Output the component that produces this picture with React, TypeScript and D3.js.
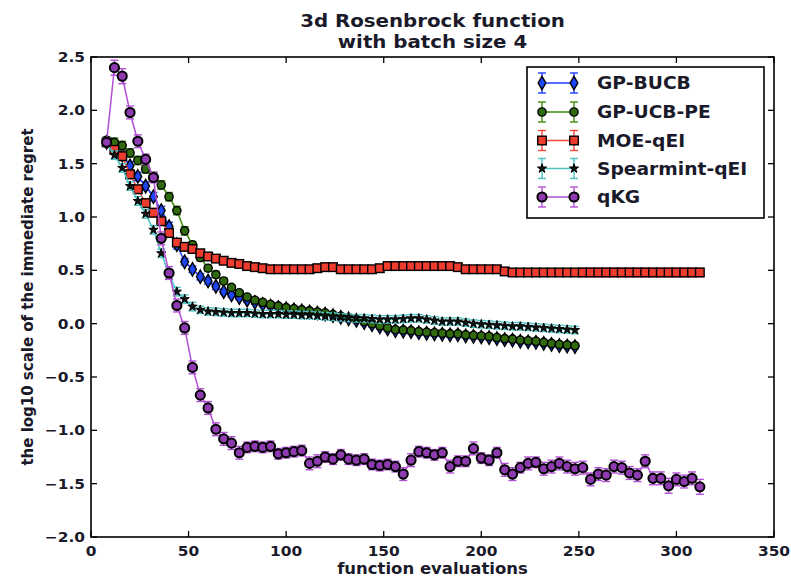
import React from 'react';
import * as d3 from 'd3';

// Function-evaluation counts (batch size 4)
const evaluations = [
  8, 12, 16, 20, 24, 28, 32, 36, 40, 44, 48, 52, 56, 60, 64, 68, 72, 76, 80, 84,
  88, 92, 96, 100, 104, 108, 112, 116, 120, 124, 128, 132, 136, 140, 144, 148, 152, 156, 160, 164,
  168, 172, 176, 180, 184, 188, 192, 196, 200, 204, 208, 212, 216, 220, 224, 228, 232, 236, 240, 244,
  248, 252, 256, 260, 264, 268, 272, 276, 280, 284, 288, 292, 296, 300, 304, 308, 312,
];

const gpBucb = [
  1.70, 1.66, 1.58, 1.48, 1.38, 1.29, 1.19, 1.06, 0.91, 0.74,
  0.58, 0.51, 0.44, 0.40, 0.35, 0.30, 0.27, 0.245, 0.22, 0.20,
  0.18, 0.165, 0.15, 0.14, 0.13, 0.12, 0.11, 0.10, 0.09, 0.075,
  0.06, 0.045, 0.03, 0.01, -0.01, -0.03, -0.05, -0.065, -0.07, -0.075,
  -0.085, -0.09, -0.095, -0.10, -0.105, -0.105, -0.115, -0.12, -0.125, -0.13,
  -0.14, -0.15, -0.155, -0.165, -0.17, -0.175, -0.185, -0.195, -0.205, -0.21, -0.215,
];
const gpBucbErr = [
  0.03, 0.04, 0.04, 0.04, 0.04, 0.04, 0.04, 0.04, 0.04, 0.04,
  0.03, 0.03, 0.03, 0.03, 0.03, 0.02, 0.02, 0.02, 0.02, 0.02,
  0.02, 0.02, 0.02, 0.02, 0.02, 0.02, 0.02, 0.02, 0.02, 0.02,
  0.02, 0.02, 0.02, 0.02, 0.02, 0.02, 0.02, 0.02, 0.02, 0.02,
  0.02, 0.02, 0.02, 0.02, 0.02, 0.02, 0.02, 0.02, 0.02, 0.02,
  0.02, 0.02, 0.02, 0.02, 0.02, 0.02, 0.02, 0.02, 0.02, 0.02, 0.02,
];

const gpUcbPe = [
  1.72, 1.70, 1.67, 1.60, 1.53, 1.45, 1.38, 1.30, 1.19, 1.06,
  0.87, 0.74, 0.62, 0.52, 0.46, 0.40, 0.34, 0.29, 0.25, 0.22,
  0.20, 0.18, 0.165, 0.15, 0.14, 0.13, 0.12, 0.11, 0.10, 0.085,
  0.07, 0.055, 0.04, 0.02, 0.0, -0.02, -0.04, -0.055, -0.06, -0.065,
  -0.075, -0.08, -0.085, -0.09, -0.095, -0.095, -0.105, -0.11, -0.115, -0.12,
  -0.13, -0.14, -0.145, -0.155, -0.16, -0.165, -0.175, -0.185, -0.195, -0.20, -0.205,
];
const gpUcbPeErr = [
  0.03, 0.04, 0.04, 0.04, 0.04, 0.04, 0.04, 0.04, 0.04, 0.04,
  0.04, 0.03, 0.03, 0.03, 0.03, 0.03, 0.02, 0.02, 0.02, 0.02,
  0.02, 0.02, 0.02, 0.02, 0.02, 0.02, 0.02, 0.02, 0.02, 0.02,
  0.02, 0.02, 0.02, 0.02, 0.02, 0.02, 0.02, 0.02, 0.02, 0.02,
  0.02, 0.02, 0.02, 0.02, 0.02, 0.02, 0.02, 0.02, 0.02, 0.02,
  0.02, 0.02, 0.02, 0.02, 0.02, 0.02, 0.02, 0.02, 0.02, 0.02, 0.02,
];

const moeQei = [
  1.70, 1.63, 1.57, 1.40, 1.26, 1.13, 1.04, 0.96, 0.85, 0.76,
  0.72, 0.70, 0.66, 0.63, 0.61, 0.59, 0.57, 0.56, 0.54, 0.53,
  0.52, 0.51, 0.51, 0.51, 0.51, 0.51, 0.51, 0.52, 0.53, 0.53,
  0.51, 0.51, 0.51, 0.51, 0.51, 0.52, 0.54, 0.54, 0.54, 0.54,
  0.54, 0.54, 0.54, 0.54, 0.54, 0.53, 0.51, 0.51, 0.51, 0.51,
  0.51, 0.49, 0.48, 0.48, 0.48, 0.48, 0.48, 0.48, 0.48, 0.48,
  0.48, 0.48, 0.48, 0.48, 0.48, 0.48, 0.48, 0.48, 0.48, 0.48,
  0.48, 0.48, 0.48, 0.48, 0.48, 0.48, 0.48,
];
const moeQeiErr = [
  0.03, 0.04, 0.04, 0.04, 0.04, 0.04, 0.04, 0.03, 0.03, 0.03,
  0.03, 0.03, 0.03, 0.03, 0.03, 0.03, 0.03, 0.03, 0.03, 0.03,
  0.03, 0.03, 0.03, 0.03, 0.03, 0.03, 0.03, 0.03, 0.03, 0.03,
  0.03, 0.03, 0.03, 0.03, 0.03, 0.03, 0.03, 0.03, 0.03, 0.03,
  0.03, 0.03, 0.03, 0.03, 0.03, 0.03, 0.03, 0.03, 0.03, 0.03,
  0.03, 0.03, 0.03, 0.03, 0.03, 0.03, 0.03, 0.03, 0.03, 0.03,
  0.03, 0.04, 0.04, 0.04, 0.04, 0.04, 0.04, 0.04, 0.04, 0.04,
  0.04, 0.04, 0.04, 0.04, 0.04, 0.04, 0.04,
];

const spearmintQei = [
  1.70, 1.58, 1.46, 1.29, 1.15, 1.03, 0.88, 0.66, 0.46, 0.30,
  0.23, 0.16, 0.13, 0.115, 0.11, 0.105, 0.10, 0.10, 0.10, 0.095,
  0.09, 0.09, 0.09, 0.085, 0.085, 0.08, 0.08, 0.075, 0.07, 0.065,
  0.06, 0.055, 0.05, 0.05, 0.045, 0.04, 0.04, 0.04, 0.045, 0.05,
  0.05, 0.04, 0.03, 0.02, 0.02, 0.02, 0.01, 0.0, -0.005, -0.01,
  -0.015, -0.02, -0.025, -0.025, -0.03, -0.035, -0.04, -0.045, -0.05, -0.055, -0.06,
];
const spearmintQeiErr = [
  0.03, 0.04, 0.04, 0.04, 0.04, 0.04, 0.04, 0.04, 0.04, 0.04,
  0.04, 0.04, 0.035, 0.035, 0.035, 0.035, 0.035, 0.035, 0.035, 0.035,
  0.035, 0.035, 0.035, 0.035, 0.035, 0.035, 0.035, 0.035, 0.035, 0.035,
  0.035, 0.035, 0.035, 0.035, 0.035, 0.035, 0.035, 0.035, 0.035, 0.035,
  0.035, 0.035, 0.035, 0.035, 0.035, 0.035, 0.035, 0.035, 0.035, 0.035,
  0.035, 0.035, 0.035, 0.035, 0.035, 0.035, 0.035, 0.035, 0.035, 0.035, 0.035,
];

const qKg = [
  1.70, 2.40, 2.32, 1.98, 1.71, 1.54, 1.37, 0.80, 0.475, 0.17,
  -0.04, -0.41, -0.67, -0.79, -0.99, -1.08, -1.12, -1.21, -1.16, -1.15,
  -1.16, -1.15, -1.22, -1.21, -1.20, -1.19, -1.31, -1.29, -1.25, -1.27,
  -1.23, -1.27, -1.28, -1.27, -1.32, -1.33, -1.32, -1.34, -1.41, -1.28,
  -1.20, -1.21, -1.23, -1.21, -1.34, -1.29, -1.29, -1.17, -1.26, -1.28,
  -1.21, -1.37, -1.41, -1.35, -1.31, -1.30, -1.36, -1.34, -1.31, -1.34,
  -1.36, -1.35, -1.46, -1.41, -1.42, -1.34, -1.35, -1.40, -1.42, -1.29,
  -1.45, -1.45, -1.52, -1.46, -1.48, -1.45, -1.53,
];
const qKgErr = [
  0.04, 0.07, 0.07, 0.06, 0.06, 0.05, 0.05, 0.06, 0.06, 0.06,
  0.06, 0.06, 0.06, 0.06, 0.06, 0.06, 0.06, 0.06, 0.05, 0.05,
  0.05, 0.05, 0.05, 0.05, 0.05, 0.05, 0.06, 0.06, 0.05, 0.05,
  0.05, 0.05, 0.05, 0.05, 0.05, 0.05, 0.05, 0.05, 0.06, 0.06,
  0.05, 0.05, 0.05, 0.05, 0.06, 0.05, 0.05, 0.06, 0.05, 0.05,
  0.05, 0.06, 0.06, 0.05, 0.06, 0.05, 0.06, 0.06, 0.06, 0.06,
  0.06, 0.06, 0.06, 0.06, 0.06, 0.06, 0.06, 0.06, 0.06, 0.06,
  0.06, 0.06, 0.07, 0.06, 0.06, 0.06, 0.07,
];

const seriesNames = ['GP-BUCB', 'GP-UCB-PE', 'MOE-qEI', 'Spearmint-qEI', 'qKG'];
const xTicks = [0, 50, 100, 150, 200, 250, 300, 350];
const yTicks = [-2.0, -1.5, -1.0, -0.5, 0.0, 0.5, 1.0, 1.5, 2.0, 2.5];

type MarkerKind = 'diamond' | 'circle' | 'square' | 'star' | 'octagon';
interface Series {
  name: string;
  values: number[];
  errors: number[];
  line: string;
  fill: string;
  marker: MarkerKind;
}

const series: Series[] = [
  { name: seriesNames[0], values: gpBucb, errors: gpBucbErr, line: '#1f3dff', fill: '#1d46f5', marker: 'diamond' },
  { name: seriesNames[1], values: gpUcbPe, errors: gpUcbPeErr, line: '#3f8a12', fill: '#2f6a0c', marker: 'circle' },
  { name: seriesNames[2], values: moeQei, errors: moeQeiErr, line: '#f0473a', fill: '#ee3d2e', marker: 'square' },
  { name: seriesNames[3], values: spearmintQei, errors: spearmintQeiErr, line: '#4fc3c3', fill: '#111111', marker: 'star' },
  { name: seriesNames[4], values: qKg, errors: qKgErr, line: '#b24fd6', fill: '#8e3bb0', marker: 'octagon' },
];

const W = 791;
const H = 578;
const plot = { left: 91, right: 774, top: 57, bottom: 537 };
const FONT = '"DejaVu Sans", sans-serif';
const STRETCH = 1.1;

const x = d3.scaleLinear().domain([0, 350]).range([plot.left, plot.right]);
const y = d3.scaleLinear().domain([-2.0, 2.5]).range([plot.bottom, plot.top]);

const lineGen = d3
  .line<[number, number]>()
  .x((d) => x(d[0]))
  .y((d) => y(d[1]));

function Marker({ kind, cx, cy, fill }: { kind: MarkerKind; cx: number; cy: number; fill: string }) {
  const common = { stroke: '#000', strokeWidth: 1.4, fill };
  if (kind === 'square') {
    return <rect x={cx - 4.3} y={cy - 4.3} width={8.6} height={8.6} {...common} />;
  }
  if (kind === 'circle') {
    return <circle cx={cx} cy={cy} r={4.1} {...common} />;
  }
  const type =
    kind === 'diamond' ? d3.symbolDiamond : kind === 'star' ? d3.symbolStar : d3.symbolCircle;
  const size = kind === 'diamond' ? 52 : kind === 'star' ? 26 : 66;
  const path = d3.symbol().type(type).size(size)() as string;
  return (
    <path
      d={path}
      transform={`translate(${cx},${cy})`}
      fill={fill}
      stroke="#000"
      strokeWidth={kind === 'octagon' ? 2 : kind === 'star' ? 1 : 1.4}
    />
  );
}

function ErrorBar({ px, lo, hi, color }: { px: number; lo: number; hi: number; color: string }) {
  const cap = 4;
  return (
    <g stroke={color} strokeWidth={1.4}>
      <line x1={px} x2={px} y1={lo} y2={hi} />
      <line x1={px - cap} x2={px + cap} y1={lo} y2={lo} />
      <line x1={px - cap} x2={px + cap} y1={hi} y2={hi} />
    </g>
  );
}

function Label({
  x: tx,
  y: ty,
  children,
  size,
  anchor = 'start',
  rotate = 0,
}: {
  x: number;
  y: number;
  children: React.ReactNode;
  size: number;
  anchor?: string;
  rotate?: number;
}) {
  return (
    <text
      transform={`translate(${tx},${ty}) scale(${STRETCH},1) rotate(${rotate})`}
      fontFamily={FONT}
      fontWeight="bold"
      fontSize={size}
      textAnchor={anchor}
      fill="#1a1a2a"
    >
      {children}
    </text>
  );
}

const fmtY = (v: number) => (v < 0 ? '\u2212' + Math.abs(v).toFixed(1) : v.toFixed(1));

export default function App() {
  const legend = { x0: 527, y0: 67, x1: 764, y1: 218, rows: [83, 112, 140.5, 168.5, 197] };

  return (
    <svg
      width={W}
      height={H}
      viewBox={`0 0 ${W} ${H}`}
      style={{ position: 'absolute', left: 0, top: 0, background: '#fff' }}
    >
      <rect x={0} y={0} width={W} height={H} fill="#fff" />

      <defs>
        <clipPath id="plot-clip">
          <rect x={plot.left} y={plot.top} width={plot.right - plot.left} height={plot.bottom - plot.top} />
        </clipPath>
      </defs>

      {/* Data series: error bars, connecting line, markers */}
      <g clipPath="url(#plot-clip)">
        {series.map((s) => {
          const pts: [number, number][] = s.values.map((v, i) => [evaluations[i], v]);
          return (
            <g key={s.name}>
              {pts.map(([ex, v], i) => (
                <ErrorBar
                  key={i}
                  px={x(ex)}
                  lo={y(v - s.errors[i])}
                  hi={y(v + s.errors[i])}
                  color={s.line}
                />
              ))}
              <path d={lineGen(pts) as string} fill="none" stroke={s.line} strokeWidth={1.5} />
              {pts.map(([ex, v], i) => (
                <Marker key={i} kind={s.marker} cx={x(ex)} cy={y(v)} fill={s.fill} />
              ))}
            </g>
          );
        })}
      </g>

      {/* Frame and inward ticks on all four sides */}
      <rect
        x={plot.left}
        y={plot.top}
        width={plot.right - plot.left}
        height={plot.bottom - plot.top}
        fill="none"
        stroke="#000"
        strokeWidth={1.6}
      />
      {xTicks.map((t) => (
        <g key={'xt' + t} stroke="#000" strokeWidth={1.3}>
          <line x1={x(t)} x2={x(t)} y1={plot.bottom} y2={plot.bottom - 6} />
          <line x1={x(t)} x2={x(t)} y1={plot.top} y2={plot.top + 6} />
        </g>
      ))}
      {yTicks.map((t) => (
        <g key={'yt' + t} stroke="#000" strokeWidth={1.3}>
          <line x1={plot.left} x2={plot.left + 6} y1={y(t)} y2={y(t)} />
          <line x1={plot.right} x2={plot.right - 6} y1={y(t)} y2={y(t)} />
        </g>
      ))}

      {/* Tick labels */}
      {xTicks.map((t) => (
        <Label key={'xl' + t} x={x(t)} y={556} size={14} anchor="middle">
          {String(t)}
        </Label>
      ))}
      {yTicks.map((t) => (
        <Label key={'yl' + t} x={plot.left - 6} y={y(t) + 5} size={14} anchor="end">
          {fmtY(t)}
        </Label>
      ))}

      {/* Axis titles */}
      <Label x={(plot.left + plot.right) / 2} y={574} size={15} anchor="middle">
        function evaluations
      </Label>
      <Label x={33} y={(plot.top + plot.bottom) / 2} size={15} anchor="middle" rotate={-90}>
        the log10 scale of the immediate regret
      </Label>

      {/* Title */}
      <Label x={(plot.left + plot.right) / 2} y={27} size={18} anchor="middle">
        3d Rosenbrock function
      </Label>
      <Label x={(plot.left + plot.right) / 2} y={48} size={18} anchor="middle">
        with batch size 4
      </Label>

      {/* Legend */}
      <rect
        x={legend.x0}
        y={legend.y0}
        width={legend.x1 - legend.x0}
        height={legend.y1 - legend.y0}
        fill="#fff"
        stroke="#000"
        strokeWidth={1.6}
      />
      {series.map((s, i) => {
        const ry = legend.rows[i];
        const hx = [542, 574];
        return (
          <g key={'lg' + s.name}>
            {hx.map((px) => (
              <ErrorBar key={px} px={px} lo={ry + 10} hi={ry - 10} color={s.line} />
            ))}
            <line x1={hx[0]} x2={hx[1]} y1={ry} y2={ry} stroke={s.line} strokeWidth={1.5} />
            {hx.map((px) => (
              <Marker key={'m' + px} kind={s.marker} cx={px} cy={ry} fill={s.fill} />
            ))}
            <Label x={597} y={ry + 6} size={17}>
              {s.name}
            </Label>
          </g>
        );
      })}
    </svg>
  );
}
